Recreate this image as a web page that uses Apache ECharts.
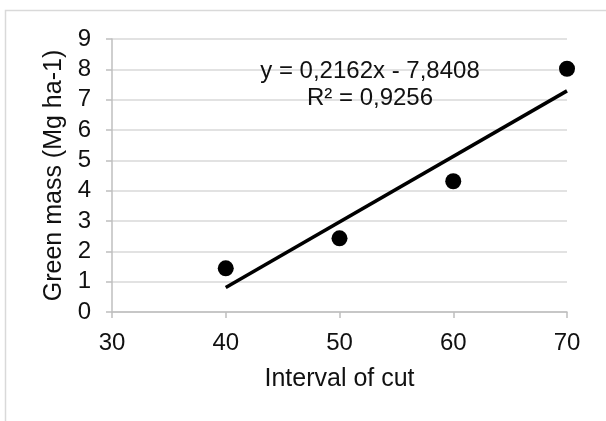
<!DOCTYPE html>
<html>
<head>
<meta charset="utf-8">
<script src="https://cdn.jsdelivr.net/npm/echarts@6/dist/echarts.min.js"></script>
<style>html,body{margin:0;padding:0;background:#fff}#c{width:606px;height:421px}</style>
</head>
<body>
<div id="c"></div>
<script>
var intervals = [40, 50, 60, 70];
var greenMass = [1.44, 2.43, 4.31, 8.02];
var trendX = [40, 70];
var trendY = [0.81, 7.29];
var equationLines = ['y = 0,2162x - 7,8408', 'R² = 0,9256'];
var xTitle = 'Interval of cut';
var yTitle = 'Green mass (Mg ha-1)';

var font = '"Liberation Sans", Arial, sans-serif';
var chart = echarts.init(document.getElementById('c'), null, {renderer: 'canvas'});
chart.setOption({
  animation: false,
  backgroundColor: '#fff',
  grid: {left: 112, right: 39, top: 39, bottom: 109, containLabel: false},
  xAxis: {
    type: 'value', min: 30, max: 70, interval: 10,
    name: xTitle, nameLocation: 'middle', nameGap: 55,
    nameTextStyle: {fontFamily: font, fontSize: 25, color: '#111'},
    axisLine: {show: true, lineStyle: {color: '#bfbfbf', width: 1.5}},
    axisTick: {show: true, length: 6, lineStyle: {color: '#bfbfbf', width: 1.5}},
    axisLabel: {fontFamily: font, fontSize: 24, color: '#111', margin: 19},
    splitLine: {show: false}
  },
  yAxis: {
    type: 'value', min: 0, max: 9, interval: 1,
    name: yTitle, nameLocation: 'middle', nameGap: 44, nameRotate: 90,
    nameTextStyle: {fontFamily: font, fontSize: 25, color: '#111'},
    axisLine: {show: true, lineStyle: {color: '#bfbfbf', width: 1.5}},
    axisTick: {show: true, length: 6, lineStyle: {color: '#bfbfbf', width: 1.5}},
    axisLabel: {fontFamily: font, fontSize: 24, color: '#111', margin: 21},
    splitLine: {show: true, lineStyle: {color: '#d9d9d9', width: 1.5}}
  },
  series: [
    {
      type: 'line',
      data: trendX.map(function (x, i) { return [x, trendY[i]]; }),
      symbol: 'none',
      lineStyle: {color: '#000', width: 3.5},
      z: 3
    },
    {
      type: 'scatter',
      data: intervals.map(function (x, i) { return [x, greenMass[i]]; }),
      symbol: 'circle',
      symbolSize: 16,
      itemStyle: {color: '#000', opacity: 1},
      z: 4
    }
  ],
  graphic: [
    {type: 'rect', shape: {x: 5.5, y: 10.5, width: 700, height: 500}, style: {fill: 'none', stroke: '#d9d9d9', lineWidth: 1.5}, z: -1, silent: true},
    {type: 'text', x: 370, y: 71, style: {text: equationLines[0], font: '24px ' + font, fill: '#111', textAlign: 'center', textVerticalAlign: 'middle'}, z: 10},
    {type: 'text', x: 370, y: 98, style: {text: equationLines[1], font: '24px ' + font, fill: '#111', textAlign: 'center', textVerticalAlign: 'middle'}, z: 10}
  ]
});
</script>
</body>
</html>
